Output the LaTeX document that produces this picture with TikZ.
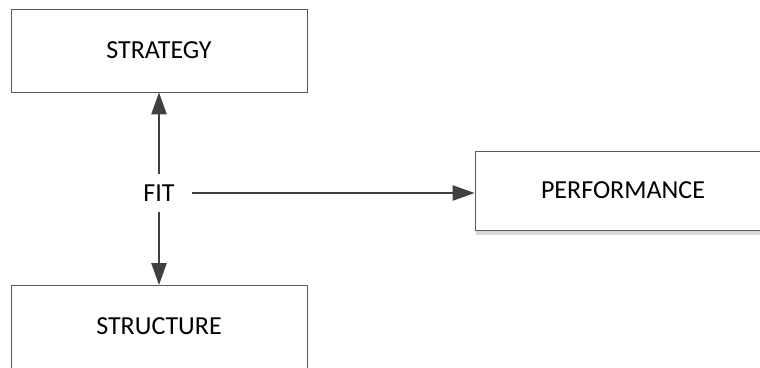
\documentclass[tikz,border=0pt]{standalone}
\usepackage{fontspec}
\setmainfont{Carlito}
\usetikzlibrary{arrows.meta,shadows}

\begin{document}
\begin{tikzpicture}[
    label font/.style={font=\fontsize{18.5}{22}\selectfont},
    box/.style={draw=black!65,line width=0.6pt,fill=white,minimum width=7.4cm,label font},
    link/.style={draw=black!75,line width=1.4pt,-{Triangle[length=0.55cm,width=0.38cm]}}]
    \useasboundingbox (0,0) rectangle (19,9.175) ;
    %\draw[very thin,gray,step=1] (0,0) grid (19,9.175) ;
         \node[box,minimum height=2.075cm] (strategy) at (3.975,7.9125) {STRATEGY} ;
         \node[box,minimum height=2.2cm,anchor=north] (structure) at (3.975,2.05) {} ;
         \node[label font] (structuretext) at (3.975,1.025) {STRUCTURE} ;
         \node[box,minimum height=1.975cm,
               drop shadow={shadow xshift=0.03cm,shadow yshift=-0.12cm,fill=black!15,opacity=1}]
               (perf) at (15.575,4.4125) {PERFORMANCE} ;
         \node[label font,inner xsep=0.42cm,inner ysep=0.25cm] (fit) at (3.975,4.35) {FIT} ;
         \draw[link] (fit) -- (strategy) ;
         \draw[link] (fit) -- (structure) ;
         \draw[link] (fit) -- (fit -| perf.west) ;
       \end{tikzpicture}
\end{document}
